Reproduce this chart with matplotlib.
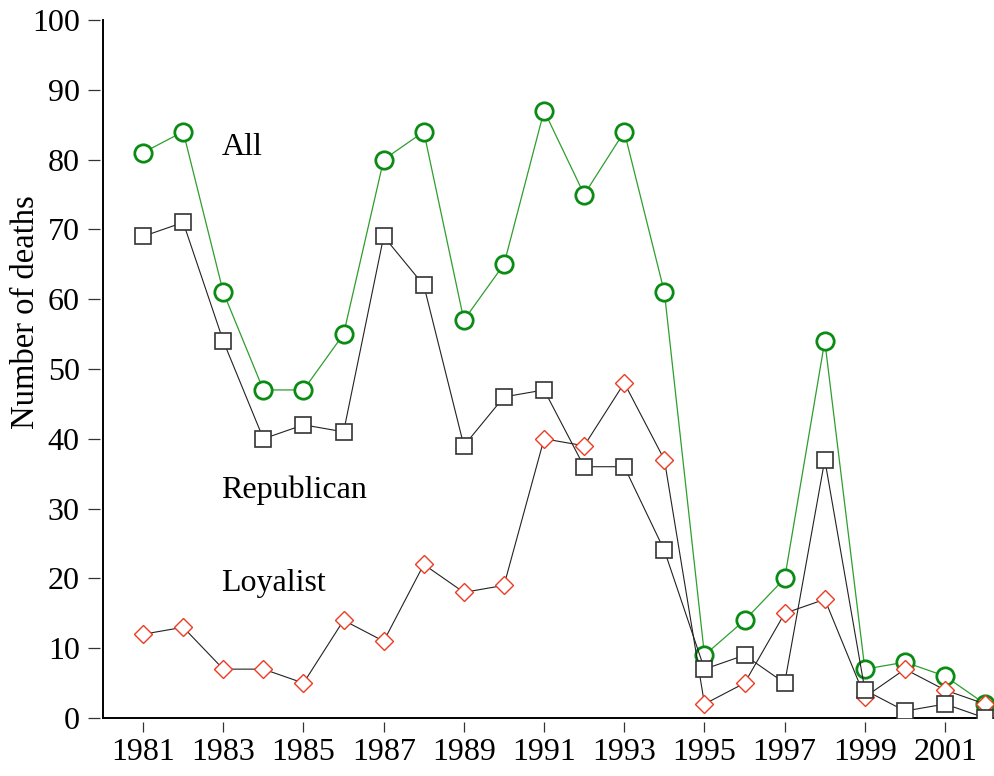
import matplotlib
matplotlib.use("Agg")
import matplotlib.pyplot as plt

# datos
years = list(range(1981, 2003))
all_deaths = [81, 84, 61, 47, 47, 55, 80, 84, 57, 65, 87, 75, 84, 61,
              9, 14, 20, 54, 7, 8, 6, 2]
republican = [69, 71, 54, 40, 42, 41, 69, 62, 39, 46, 47, 36, 36, 24,
              7, 9, 5, 37, 4, 1, 2, 0]
loyalist = [12, 13, 7, 7, 5, 14, 11, 22, 18, 19, 40, 39, 48, 37,
            2, 5, 15, 17, 3, 7, 4, 2]

xticks = list(range(1981, 2002, 2))
yticks = list(range(0, 101, 10))

plt.rcParams['font.family'] = ['Liberation Serif', 'DejaVu Serif']

fig = plt.figure(figsize=(9.94, 7.76), dpi=100)
ax = fig.add_axes([103 / 994, 1 - 718 / 776, 1 - 103 / 994, (718 - 20) / 776])

# serie "All" (verde, al fondo)
ax.plot(years, all_deaths, color='#2e9e2e', lw=0.9, zorder=2,
        marker='o', markersize=12.5, markerfacecolor='white',
        markeredgecolor='#0a8c14', markeredgewidth=2.0)
# serie leal (rombos rojos)
ax.plot(years, loyalist, color='#222222', lw=0.8, zorder=3,
        marker='D', markersize=9.3, markerfacecolor='white',
        markeredgecolor='#ee3a22', markeredgewidth=1.0)
# serie republicana (cuadrados)
ax.plot(years, republican, color='#222222', lw=0.8, zorder=4,
        marker='s', markersize=12, markerfacecolor='white',
        markeredgecolor='#333333', markeredgewidth=1.2)

ax.text(1982.95, 81.8, 'All', fontsize=23, va='center', ha='left')
ax.text(1982.95, 32.7, 'Republican', fontsize=23, va='center', ha='left')
ax.text(1982.95, 19.3, 'Loyalist', fontsize=23, va='center', ha='left')

ax.set_xlim(1980, 2002.22)
ax.set_ylim(0, 100)
ax.set_xticks(xticks)
ax.set_yticks(yticks)
ax.tick_params(axis='both', labelsize=23, direction='out', width=0.9,
               color='#333333')
ax.tick_params(axis='x', length=7.5, pad=4)
ax.tick_params(axis='y', length=8.5, pad=6)

# ejes con las marcas separadas de la linea
for side in ['top', 'right']:
    ax.spines[side].set_visible(False)
ax.spines['left'].set_position(('outward', 2.2))
ax.spines['bottom'].set_position(('outward', 3))
ax.spines['left'].set_visible(False)
ax.spines['bottom'].set_visible(False)
ax.axvline(1980, color='black', lw=1.4, zorder=1, clip_on=False)
ax.axhline(0, color='black', lw=1.4, zorder=1, clip_on=False)

ax.set_ylabel('Number of deaths', fontsize=23.5)
ax.yaxis.set_label_coords(-0.07, 0.582)

fig.savefig('out.png', dpi=100)
